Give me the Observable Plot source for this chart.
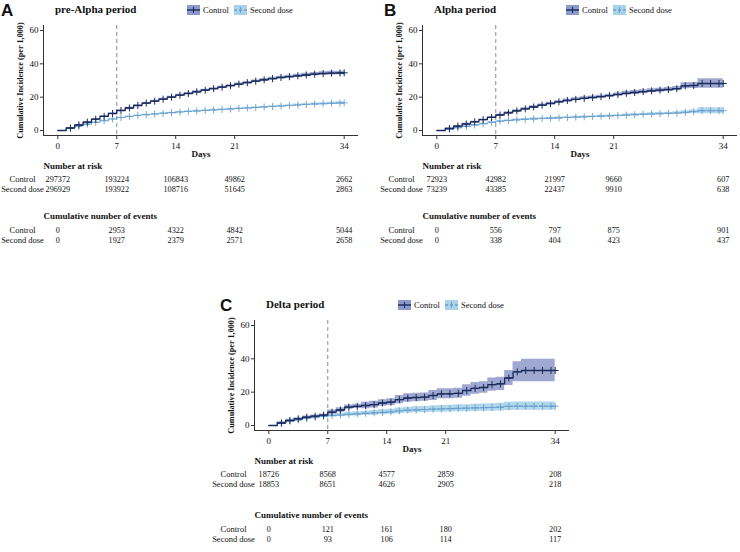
<!DOCTYPE html>
<html><head><meta charset="utf-8">
<script src="https://cdn.jsdelivr.net/npm/d3@7"></script>
<script src="https://cdn.jsdelivr.net/npm/@observablehq/plot@0.6"></script>
<style>
body{margin:0;background:#fff;}
#root{position:relative;width:740px;height:552px;background:#fff;font-family:"Liberation Serif",serif;color:#111;overflow:hidden;}
.letter{font-family:"Liberation Sans",Arial,sans-serif;font-weight:bold;font-size:17px;line-height:1;}
.ptitle{font-weight:bold;font-size:11px;line-height:1;white-space:nowrap;}
.leg{font-size:8.5px;display:flex;align-items:center;line-height:1;white-space:nowrap;}
.leg svg{margin-right:3px;}
.leg span{margin-right:5px;}
</style></head><body><div id="root"></div>
<script>
// ---------- shared ----------
const days = [0,1,2,3,4,5,6,7,8,9,10,11,12,13,14,15,16,17,18,19,20,21,22,23,24,25,26,27,28,29,30,31,32,33,34];
const censorDays = [1.5,2.5,3.5,4.5,5.5,6.5,7.5,8.5,9.5,10.5,11.5,12.5,13.5,14.5,15.5,16.5,17.5,18.5,19.5,20.5,21.5,22.5,23.5,24.5,25.5,26.5,27.5,28.5,29.5,30.5,31.5,32.5,33.5,34];
const groups = ["Control", "Second dose"];
const xTicks = [0, 7, 14, 21, 34];
const yTicks = [0, 20, 40, 60];
const tableDays = [0, 7, 14, 21, 34];
const referenceDay = 7;
const yTitle = "Cumulative Incidence (per 1,000)";
const xTitle = "Days";
const riskTitle = "Number at risk";
const eventsTitle = "Cumulative number of events";

// ---------- panel A: pre-Alpha ----------
const aCtrl   = [0,1.5,3.3,5.0,6.8,8.5,10.2,12.0,13.5,15.0,16.4,17.6,18.8,20.0,21.2,22.2,23.2,24.2,25.1,26.0,26.9,27.8,28.7,29.6,30.4,31.1,31.8,32.3,32.8,33.3,33.8,34.2,34.4,34.5,34.6];
const aCtrlLo = [0,1.3,3.1,4.8,6.5,8.2,9.9,11.7,13.1,14.6,16.0,17.1,18.3,19.5,20.7,21.6,22.6,23.6,24.5,25.4,26.3,27.1,28.0,28.9,29.6,30.3,31.0,31.4,31.9,32.3,32.8,33.2,33.3,33.4,33.5];
const aCtrlHi = [0,1.7,3.5,5.2,7.1,8.8,10.5,12.3,13.9,15.4,16.8,18.1,19.3,20.5,21.7,22.8,23.8,24.8,25.7,26.6,27.5,28.5,29.4,30.3,31.2,31.9,32.6,33.2,33.7,34.3,34.8,35.2,35.5,35.6,35.7];
const aSec    = [0,1.3,2.6,3.8,4.9,5.9,6.9,7.8,8.4,9.0,9.5,9.9,10.3,10.7,11.1,11.4,11.7,12.0,12.3,12.6,12.9,13.2,13.5,13.8,14.1,14.4,14.7,15.0,15.3,15.6,15.9,16.1,16.3,16.5,16.6];
const aSecLo  = [0,1.1,2.4,3.6,4.7,5.7,6.7,7.6,8.1,8.7,9.2,9.6,10.0,10.4,10.8,11.0,11.3,11.6,11.9,12.2,12.5,12.8,13.0,13.3,13.6,13.9,14.2,14.5,14.7,15.0,15.3,15.5,15.7,15.8,15.9];
const aSecHi  = [0,1.5,2.8,4.0,5.1,6.1,7.1,8.0,8.7,9.3,9.8,10.2,10.6,11.0,11.4,11.8,12.1,12.4,12.7,13.0,13.3,13.6,14.0,14.3,14.6,14.9,15.2,15.5,15.9,16.2,16.5,16.7,16.9,17.2,17.3];
const aRiskCtrl = [297372,193224,106843,49862,2662];
const aRiskSec  = [296929,193922,108716,51645,2863];
const aEvCtrl   = [0,2953,4322,4842,5044];
const aEvSec    = [0,1927,2379,2571,2658];

// ---------- panel B: Alpha ----------
const bCtrl   = [0,1.2,2.6,3.9,5.2,6.5,7.9,9.3,10.6,11.8,13.0,14.1,15.2,16.2,17.2,18.0,18.7,19.3,19.8,20.3,20.9,21.6,22.3,22.8,23.3,23.8,24.2,24.6,25.1,26.8,27.0,28.2,28.2,28.2,28.2];
const bCtrlLo = [0,0.8,2.2,3.5,4.8,6.1,7.5,8.9,9.9,11.1,12.3,13.4,14.5,15.5,16.5,17.1,17.8,18.4,18.9,19.4,20.0,20.7,21.1,21.6,22.1,22.6,23.0,23.4,23.8,25.0,25.2,25.4,25.4,25.4,25.4];
const bCtrlHi = [0,1.6,3.0,4.3,5.6,6.9,8.3,9.7,11.3,12.5,13.7,14.8,15.9,16.9,17.9,18.9,19.6,20.2,20.7,21.2,21.8,22.5,23.5,24.0,24.5,25.0,25.4,25.8,26.4,28.6,28.8,31.0,31.0,31.0,31.0];
const bSec    = [0,0.8,1.7,2.5,3.3,4.1,4.9,5.6,6.0,6.4,6.7,7.0,7.2,7.4,7.6,7.8,8.0,8.2,8.4,8.6,8.8,9.0,9.2,9.5,9.7,9.9,10.1,10.3,10.5,10.9,11.3,11.9,11.9,11.9,11.9];
const bSecLo  = [0,0.5,1.4,2.2,3.0,3.8,4.6,5.3,5.5,5.9,6.2,6.5,6.7,6.9,7.1,7.3,7.5,7.7,7.9,8.1,8.3,8.5,8.5,8.8,9.0,9.2,9.4,9.6,9.8,9.9,10.3,10.1,10.1,10.1,10.1];
const bSecHi  = [0,1.1,2.0,2.8,3.6,4.4,5.2,5.9,6.5,6.9,7.2,7.5,7.7,7.9,8.1,8.3,8.5,8.7,8.9,9.1,9.3,9.5,9.9,10.2,10.4,10.6,10.8,11.0,11.2,11.9,12.3,13.7,13.7,13.7,13.7];
const bRiskCtrl = [72923,42982,21997,9660,607];
const bRiskSec  = [73239,43385,22437,9910,638];
const bEvCtrl   = [0,556,797,875,901];
const bEvSec    = [0,338,404,423,437];

// ---------- panel C: Delta ----------
const cCtrl   = [0,1.5,3.0,4.0,5.0,5.6,6.2,8.0,9.3,11.0,11.5,12.0,12.5,13.5,14.0,15.5,16.5,16.8,17.0,18.0,19.0,19.0,19.3,21.0,22.3,22.8,24.5,25.0,28.5,32.2,33.0,33.0,33.0,33.0,33.0];
const cCtrlLo = [0,0.8,2.3,3.3,4.3,4.9,5.5,6.7,8.0,9.7,10.2,10.0,10.5,11.5,12.0,13.0,14.0,14.3,14.5,15.0,16.0,16.0,16.3,17.5,18.8,19.3,20.5,21.0,24.0,26.2,26.3,26.3,26.3,26.3,26.3];
const cCtrlHi = [0,2.2,3.7,4.7,5.7,6.3,6.9,9.3,10.6,12.3,12.8,14.0,14.5,15.5,16.0,18.0,19.0,19.3,19.5,21.0,22.0,22.0,22.3,24.5,25.8,26.3,28.5,29.0,33.0,38.2,39.8,39.8,39.8,39.8,39.8];
const cSec    = [0,1.2,2.5,3.4,4.2,4.8,5.4,6.0,6.3,6.7,7.0,7.3,7.6,7.9,8.2,8.8,9.2,9.4,9.6,9.8,10.0,10.1,10.3,10.4,10.6,10.7,10.8,11.0,11.5,11.6,11.6,11.6,11.6,11.6,11.6];
const cSecLo  = [0,0.5,1.8,2.7,3.5,4.0,4.6,5.0,5.2,5.5,5.7,6.0,6.2,6.4,6.7,7.1,7.4,7.6,7.8,7.9,8.0,8.1,8.2,8.3,8.4,8.5,8.6,8.7,9.0,9.1,9.1,9.1,9.1,9.1,9.1];
const cSecHi  = [0,1.9,3.2,4.1,4.9,5.6,6.2,7.0,7.4,7.9,8.3,8.6,9.0,9.4,9.7,10.5,11.0,11.2,11.4,11.7,12.0,12.1,12.4,12.5,12.8,12.9,13.0,13.3,14.0,14.1,14.1,14.1,14.1,14.1,14.1];
const cRiskCtrl = [18726,8568,4577,2859,208];
const cRiskSec  = [18853,8651,4626,2905,218];
const cEvCtrl   = [0,121,161,180,202];
const cEvSec    = [0,93,106,114,117];

// ---------- style ----------
const ctrlLine = "#1b2a5c", ctrlBand = "#8d99c9";
const secLine = "#6a9fcf", secBand = "#a9d3e9";
const axisColor = "#333";
const xDomain = [-1.7, 35.7];
const yDomain = [-3, 63];
const W = 370, marginLeft = 43, marginRight = 12;
const font = {fontFamily: "'Liberation Serif', serif", fontSize: "9px", color: "#111", background: "transparent", overflow: "visible"};

const root = document.getElementById("root");
function place(el, left, top) {
  el.style.position = "absolute"; el.style.left = left + "px"; el.style.top = top + "px";
  root.appendChild(el); return el;
}

function series(v, lo, hi) { return days.map((d, i) => ({day: d, v: v[i], lo: lo[i], hi: hi[i]})); }
function censor(v) { return censorDays.map(c => ({day: c, v: v[Math.floor(c)]})); }

// curve SVG is 180 tall, starting 20px above the panel origin
function curvePlot(ctrl, sec) {
  return Plot.plot({
    width: W, height: 180,
    marginLeft, marginRight, marginTop: 45, marginBottom: 25,
    style: font,
    x: {domain: xDomain},
    y: {domain: yDomain},
    marks: [
      Plot.areaY(sec.rows, {x: "day", y1: "lo", y2: "hi", curve: "step-after", fill: secBand, fillOpacity: 0.9}),
      Plot.areaY(ctrl.rows, {x: "day", y1: "lo", y2: "hi", curve: "step-after", fill: ctrlBand, fillOpacity: 0.85}),
      Plot.ruleX([referenceDay], {stroke: "#8c8c8c", strokeDasharray: "4,3", strokeWidth: 1}),
      Plot.line(sec.rows, {x: "day", y: "v", curve: "step-after", stroke: secLine, strokeWidth: 1.1, strokeDasharray: "3,2"}),
      Plot.dot(sec.cens, {x: "day", y: "v", symbol: "plus", r: 2.4, stroke: secLine, strokeWidth: 0.9}),
      Plot.line(ctrl.rows, {x: "day", y: "v", curve: "step-after", stroke: ctrlLine, strokeWidth: 1.3}),
      Plot.dot(ctrl.cens, {x: "day", y: "v", symbol: "plus", r: 2.4, stroke: ctrlLine, strokeWidth: 1}),
      Plot.ruleY([yDomain[0]], {stroke: axisColor, strokeWidth: 1}),
      Plot.ruleX([xDomain[0]], {stroke: axisColor, strokeWidth: 1}),
      Plot.axisX({ticks: xTicks, tickSize: 4, tickPadding: 3, label: null, stroke: axisColor}),
      Plot.axisY({ticks: yTicks, tickSize: 3, tickPadding: 2, label: null, stroke: axisColor}),
      Plot.text([xTitle], {frameAnchor: "bottom", dy: 19, lineAnchor: "middle", fontWeight: "bold", fontSize: 9}),
      Plot.text([yTitle], {frameAnchor: "left", rotate: -90, dx: -23, textAnchor: "middle", lineAnchor: "middle", fontWeight: "bold", fontSize: 8.2})
    ]
  });
}

function tablePlot(title, ctrlVals, secVals, height, marginTop, titleDy) {
  const rows = [];
  tableDays.forEach((d, i) => {
    rows.push({day: d, group: groups[0], value: ctrlVals[i]});
    rows.push({day: d, group: groups[1], value: secVals[i]});
  });
  return Plot.plot({
    width: W, height, marginLeft, marginRight, marginTop, marginBottom: height - marginTop - 10,
    style: font,
    x: {domain: xDomain, axis: null},
    y: {type: "point", domain: groups, padding: 0},
    marks: [
      Plot.axisY({tickSize: 0, tickPadding: 21, textAnchor: "middle", label: null, fontSize: 8.5}),
      Plot.text(rows, {x: "day", y: "group", text: d => String(d.value), fontSize: 8.2}),
      Plot.text([title], {frameAnchor: "top-left", dy: titleDy, textAnchor: "start", lineAnchor: "middle", fontWeight: "bold", fontSize: 9})
    ]
  });
}

function swatch(band, line, dashed) {
  const ns = "http://www.w3.org/2000/svg";
  const s = document.createElementNS(ns, "svg");
  s.setAttribute("width", 13); s.setAttribute("height", 10);
  s.innerHTML = `<rect x="0" y="0" width="13" height="10" fill="${band}"/>` +
    `<line x1="0" y1="5" x2="13" y2="5" stroke="${line}" stroke-width="1.4" ${dashed ? 'stroke-dasharray="3,2"' : ''}/>` +
    `<line x1="6.5" y1="2" x2="6.5" y2="8" stroke="${line}" stroke-width="1.1"/>`;
  return s;
}

function panel(ox, oy, letter, title, d, evOffset, letterDx) {
  const ctrl = {rows: series(d.ctrl, d.ctrlLo, d.ctrlHi), cens: censor(d.ctrl)};
  const sec = {rows: series(d.sec, d.secLo, d.secHi), cens: censor(d.sec)};
  place(curvePlot(ctrl, sec), ox, oy - 20);
  place(tablePlot(riskTitle, d.riskCtrl, d.riskSec, 44, 23, -13), ox, oy + 156);
  place(tablePlot(eventsTitle, d.evCtrl, d.evSec, 48, 30, -14), ox, oy + 200 + evOffset);
  const L = document.createElement("div"); L.className = "letter"; L.textContent = letter;
  place(L, ox + 1 + letterDx, oy + 2);
  const T = document.createElement("div"); T.className = "ptitle"; T.textContent = title;
  place(T, ox + 55, oy + 4);
  const leg = document.createElement("div"); leg.className = "leg";
  leg.appendChild(swatch(ctrlBand, ctrlLine, false));
  const s1 = document.createElement("span"); s1.textContent = groups[0]; leg.appendChild(s1);
  leg.appendChild(swatch(secBand, secLine, true));
  const s2 = document.createElement("span"); s2.textContent = groups[1]; leg.appendChild(s2);
  place(leg, ox + 187, oy + 5);
}

panel(0, 0, "A", "pre-Alpha period", {ctrl: aCtrl, ctrlLo: aCtrlLo, ctrlHi: aCtrlHi, sec: aSec, secLo: aSecLo, secHi: aSecHi, riskCtrl: aRiskCtrl, riskSec: aRiskSec, evCtrl: aEvCtrl, evSec: aEvSec}, 0, 0);
panel(379, 0, "B", "Alpha period", {ctrl: bCtrl, ctrlLo: bCtrlLo, ctrlHi: bCtrlHi, sec: bSec, secLo: bSecLo, secHi: bSecHi, riskCtrl: bRiskCtrl, riskSec: bRiskSec, evCtrl: bEvCtrl, evSec: bEvSec}, 0, 4);
panel(211, 295, "C", "Delta period", {ctrl: cCtrl, ctrlLo: cCtrlLo, ctrlHi: cCtrlHi, sec: cSec, secLo: cSecLo, secHi: cSecHi, riskCtrl: cRiskCtrl, riskSec: cRiskSec, evCtrl: cEvCtrl, evSec: cEvSec}, 4, 8);
</script></body></html>
